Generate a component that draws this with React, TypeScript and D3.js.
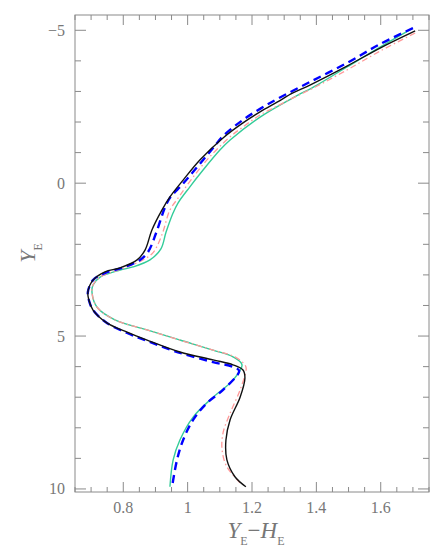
import React, { useEffect, useRef } from "react";
import * as d3 from "d3";

// colour index (x) and magnitude (y), traced from top (bright) to bottom (faint)
const blackX = [1.707, 1.598, 1.495, 1.38, 1.327, 1.278, 1.225, 1.172, 1.11, 1.038, 0.986, 0.945, 0.92, 0.889, 0.868, 0.843, 0.79, 0.743, 0.706, 0.69, 0.693, 0.706, 0.749, 0.812, 0.874, 0.976, 1.079, 1.141, 1.172, 1.178, 1.163, 1.132, 1.119, 1.122, 1.147, 1.181];
const blackY = [-4.98, -4.42, -3.83, -3.21, -2.95, -2.65, -2.33, -1.97, -1.48, -0.76, -0.1, 0.45, 0.88, 1.53, 2.18, 2.51, 2.77, 2.9, 3.17, 3.56, 3.82, 4.15, 4.57, 4.87, 5.13, 5.52, 5.78, 5.94, 6.11, 6.37, 7.0, 7.74, 8.4, 9.05, 9.6, 9.93];

const blueX = [1.7, 1.598, 1.495, 1.38, 1.278, 1.225, 1.172, 1.11, 1.079, 1.048, 1.014, 0.982, 0.945, 0.93, 0.902, 0.877, 0.852, 0.796, 0.743, 0.706, 0.69, 0.693, 0.706, 0.749, 0.812, 0.874, 0.976, 1.079, 1.141, 1.16, 1.11, 1.06, 1.017, 0.986, 0.967, 0.951];
const blueY = [-5.07, -4.55, -3.93, -3.31, -2.75, -2.43, -2.07, -1.54, -1.15, -0.76, -0.33, 0.06, 0.48, 0.78, 1.63, 2.25, 2.51, 2.77, 2.94, 3.17, 3.56, 3.82, 4.15, 4.57, 4.9, 5.16, 5.55, 5.85, 6.01, 6.14, 6.76, 7.19, 7.74, 8.4, 9.05, 9.97];

const pinkX = [1.707, 1.598, 1.495, 1.39, 1.334, 1.278, 1.225, 1.172, 1.128, 1.06, 1.01, 0.973, 0.945, 0.92, 0.892, 0.861, 0.812, 0.728, 0.706, 0.703, 0.718, 0.774, 0.874, 0.976, 1.079, 1.147, 1.178, 1.182, 1.163, 1.132, 1.11, 1.107, 1.122, 1.163];
const pinkY = [-4.91, -4.32, -3.7, -3.11, -2.82, -2.52, -2.23, -1.84, -1.48, -0.76, -0.1, 0.45, 0.88, 1.69, 2.28, 2.51, 2.74, 3.07, 3.33, 3.59, 4.05, 4.47, 4.8, 5.13, 5.46, 5.68, 5.94, 6.07, 6.76, 7.52, 8.17, 8.72, 9.28, 9.8];

const greenX = [1.7, 1.598, 1.495, 1.402, 1.327, 1.225, 1.132, 1.101, 1.048, 1.007, 0.97, 0.955, 0.933, 0.917, 0.883, 0.83, 0.79, 0.728, 0.706, 0.703, 0.718, 0.774, 0.874, 0.976, 1.079, 1.141, 1.169, 1.141, 1.079, 1.017, 0.976, 0.955, 0.945];
const greenY = [-5.07, -4.45, -3.8, -3.21, -2.79, -2.16, -1.41, -1.09, -0.43, 0.12, 0.65, 0.97, 1.6, 2.15, 2.51, 2.74, 2.84, 3.07, 3.33, 3.59, 4.05, 4.47, 4.8, 5.13, 5.46, 5.68, 5.94, 6.44, 7.0, 7.65, 8.4, 9.05, 9.93];

const xMajor = [0.8, 1.0, 1.2, 1.4, 1.6];
const xMajorLabels = ["0.8", "1", "1.2", "1.4", "1.6"];
const yMajor = [-5, 0, 5, 10];
const yMajorLabels = ["\u22125", "0", "5", "10"];

const series = [
  { xs: greenX, ys: greenY, color: "#33cc99", width: 1.4, dash: null },
  { xs: pinkX, ys: pinkY, color: "#ff9999", width: 1.3, dash: "6,3,1.5,3" },
  { xs: blueX, ys: blueY, color: "#0000ff", width: 2.4, dash: "8,5" },
  { xs: blackX, ys: blackY, color: "#111111", width: 1.4, dash: null },
];

export default function App() {
  const ref = useRef<SVGSVGElement>(null);

  useEffect(() => {
    const width = 432;
    const height = 550;
    const margin = { top: 15, right: 3, bottom: 58, left: 75 };
    const svg = d3.select(ref.current);
    svg.selectAll("*").remove();

    const x = d3.scaleLinear().domain([0.65, 1.75]).range([margin.left, width - margin.right]);
    const y = d3.scaleLinear().domain([-5.5, 10.1]).range([margin.top, height - margin.bottom]);

    const x0 = margin.left, x1 = width - margin.right;
    const y0 = margin.top, y1 = height - margin.bottom;
    const axisColor = "#8a8a8a";
    const textColor = "#777";

    // minor/major ticks on all four sides, pointing inward
    const xTicks = d3.range(0.65, 1.7501, 0.05).map((v) => +v.toFixed(2));
    const yTicks = d3.range(-5, 10.01, 1);
    const g = svg.append("g").attr("stroke", axisColor).attr("stroke-width", 1);
    xTicks.forEach((v) => {
      const len = xMajor.some((m) => Math.abs(m - v) < 1e-6) ? 10 : 5;
      g.append("line").attr("x1", x(v)).attr("x2", x(v)).attr("y1", y1).attr("y2", y1 - len);
      g.append("line").attr("x1", x(v)).attr("x2", x(v)).attr("y1", y0).attr("y2", y0 + len);
    });
    yTicks.forEach((v) => {
      const len = v % 5 === 0 ? 11 : 6;
      g.append("line").attr("y1", y(v)).attr("y2", y(v)).attr("x1", x0).attr("x2", x0 + len);
      g.append("line").attr("y1", y(v)).attr("y2", y(v)).attr("x1", x1).attr("x2", x1 - len);
    });
    svg
      .append("rect")
      .attr("x", x0)
      .attr("y", y0)
      .attr("width", x1 - x0)
      .attr("height", y1 - y0)
      .attr("fill", "none")
      .attr("stroke", axisColor)
      .attr("stroke-width", 1);

    const font = "Liberation Serif, Times New Roman, serif";
    svg
      .selectAll(".xl")
      .data(xMajor)
      .enter()
      .append("text")
      .attr("x", (d) => x(d))
      .attr("y", 513)
      .attr("text-anchor", "middle")
      .attr("font-family", font)
      .attr("font-size", 16)
      .attr("fill", textColor)
      .text((d, i) => xMajorLabels[i]);
    svg
      .selectAll(".yl")
      .data(yMajor)
      .enter()
      .append("text")
      .attr("x", 65)
      .attr("y", (d) => y(d) + 5.5)
      .attr("text-anchor", "end")
      .attr("font-family", font)
      .attr("font-size", 16)
      .attr("fill", textColor)
      .text((d, i) => yMajorLabels[i]);

    // axis titles
    const xt = svg
      .append("text")
      .attr("x", 256)
      .attr("y", 538)
      .attr("text-anchor", "middle")
      .attr("font-family", font)
      .attr("font-size", 23)
      .attr("fill", textColor);
    xt.append("tspan").attr("font-style", "italic").text("Y");
    xt.append("tspan").attr("font-size", 12).attr("dy", 7).text("E");
    xt.append("tspan").attr("dy", -7).text("\u2212");
    xt.append("tspan").attr("font-style", "italic").text("H");
    xt.append("tspan").attr("font-size", 12).attr("dy", 7).text("E");

    const yt = svg
      .append("text")
      .attr("transform", "translate(35,253) rotate(-90)")
      .attr("text-anchor", "middle")
      .attr("font-family", font)
      .attr("font-size", 22)
      .attr("fill", textColor);
    yt.append("tspan").attr("font-style", "italic").text("Y");
    yt.append("tspan").attr("font-size", 12).attr("dy", 7).text("E");

    const line = d3
      .line<[number, number]>()
      .x((d) => x(d[0]))
      .y((d) => y(d[1]))
      .curve(d3.curveCatmullRom.alpha(0.5));

    series.forEach((s) => {
      const pts = s.xs.map((v, i) => [v, s.ys[i]] as [number, number]);
      svg
        .append("path")
        .datum(pts)
        .attr("fill", "none")
        .attr("stroke", s.color)
        .attr("stroke-width", s.width)
        .attr("stroke-dasharray", s.dash)
        .attr("d", line);
    });
  }, []);

  return (
    <svg
      ref={ref}
      width={432}
      height={550}
      style={{ position: "absolute", left: 0, top: 0, background: "#fff" }}
    />
  );
}
